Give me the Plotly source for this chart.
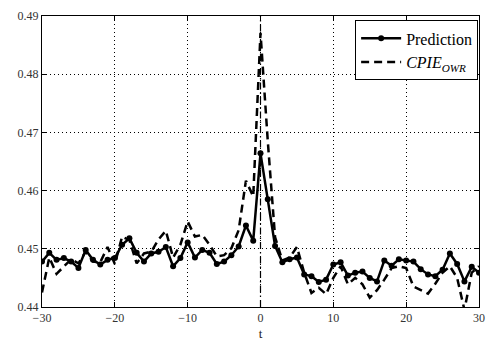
import plotly.graph_objects as go

# lag axis
t = list(range(-30, 31))

prediction = [
    0.4478, 0.4493, 0.4481, 0.4484, 0.4478, 0.4467, 0.4498, 0.4481, 0.4473, 0.4481,
    0.4484, 0.4507, 0.4518, 0.4493, 0.4478, 0.4492, 0.4495, 0.4503, 0.4470, 0.4484,
    0.4511, 0.4485, 0.4498, 0.4493, 0.4474, 0.4478, 0.4489, 0.4504, 0.4540, 0.4514,
    0.4664, 0.4585, 0.4505, 0.4477, 0.4482, 0.4485, 0.4456, 0.4453, 0.4443, 0.4447,
    0.4473, 0.4477, 0.4454, 0.4459, 0.4461, 0.4450, 0.4444, 0.4480, 0.4471, 0.4482,
    0.4480, 0.4478, 0.4465, 0.4456, 0.4453, 0.4464, 0.4492, 0.4474, 0.4444, 0.4469,
    0.4459,
]

cpie_owr = [
    0.4425, 0.4485, 0.4457, 0.4470, 0.4482, 0.4475, 0.4495, 0.4478, 0.4477, 0.4503,
    0.4474, 0.4521, 0.4515, 0.4475, 0.4492, 0.4495, 0.4516, 0.4531, 0.4485, 0.4507,
    0.4547, 0.4521, 0.4524, 0.4507, 0.4487, 0.4489, 0.4501, 0.4532, 0.4617, 0.4590,
    0.4871, 0.4685, 0.4520, 0.4480, 0.4485, 0.4503, 0.4459, 0.4424, 0.4433, 0.4422,
    0.4450, 0.4470, 0.4439, 0.4450, 0.4439, 0.4416, 0.4429, 0.4447, 0.4467, 0.4470,
    0.4467, 0.4435, 0.4429, 0.4423, 0.4440, 0.4459, 0.4470, 0.4450, 0.4395, 0.4459,
    0.4470,
]

x_ticks = [-30, -20, -10, 0, 10, 20, 30]
x_tick_text = ["\u221230", "\u221220", "\u221210", "0", "10", "20", "30"]
y_ticks = [0.44, 0.45, 0.46, 0.47, 0.48, 0.49]

FONT = "Liberation Serif"

fig = go.Figure()

fig.add_trace(go.Scatter(
    x=t, y=prediction, mode="lines+markers", name="Prediction",
    line=dict(color="black", width=2.5),
    marker=dict(color="black", size=6),
))
fig.add_trace(go.Scatter(
    x=t, y=cpie_owr, mode="lines", name="<i>CPIE</i><sub><i>OWR</i></sub>",
    line=dict(color="black", width=2.5, dash="8px,5px"),
))

# event marker at t = 0
fig.add_shape(type="line", xref="x", yref="paper", x0=0, x1=0, y0=0, y1=1,
              line=dict(color="black", width=1.2, dash="7px,3px,1.5px,3px"), layer="above")

axis_common = dict(
    showline=True, linecolor="black", linewidth=1, mirror="ticks",
    ticks="inside", ticklen=5, tickwidth=1, tickcolor="black",
    showgrid=True, gridcolor="black", gridwidth=1, griddash="1px,3px",
    zeroline=False, tickfont=dict(family=FONT, size=12, color="#333"),
)

fig.update_xaxes(range=[-30, 30], tickvals=x_ticks, ticktext=x_tick_text,
                 title=dict(text="t", font=dict(family=FONT, size=13, color="#222"), standoff=4),
                 **axis_common)
fig.update_yaxes(range=[0.44, 0.49], tickvals=y_ticks, tickformat=".2f",
                 **axis_common)

fig.update_layout(
    width=492, height=346,
    margin=dict(l=42, r=7, t=16, b=37),
    paper_bgcolor="white", plot_bgcolor="white",
    showlegend=True,
    legend=dict(
        x=0.998, y=0.985, xanchor="right", yanchor="top",
        bgcolor="white", bordercolor="black", borderwidth=1,
        font=dict(family=FONT, size=16, color="black"),
        itemwidth=40, tracegroupgap=0,
    ),
)

fig.write_html("out.html")
